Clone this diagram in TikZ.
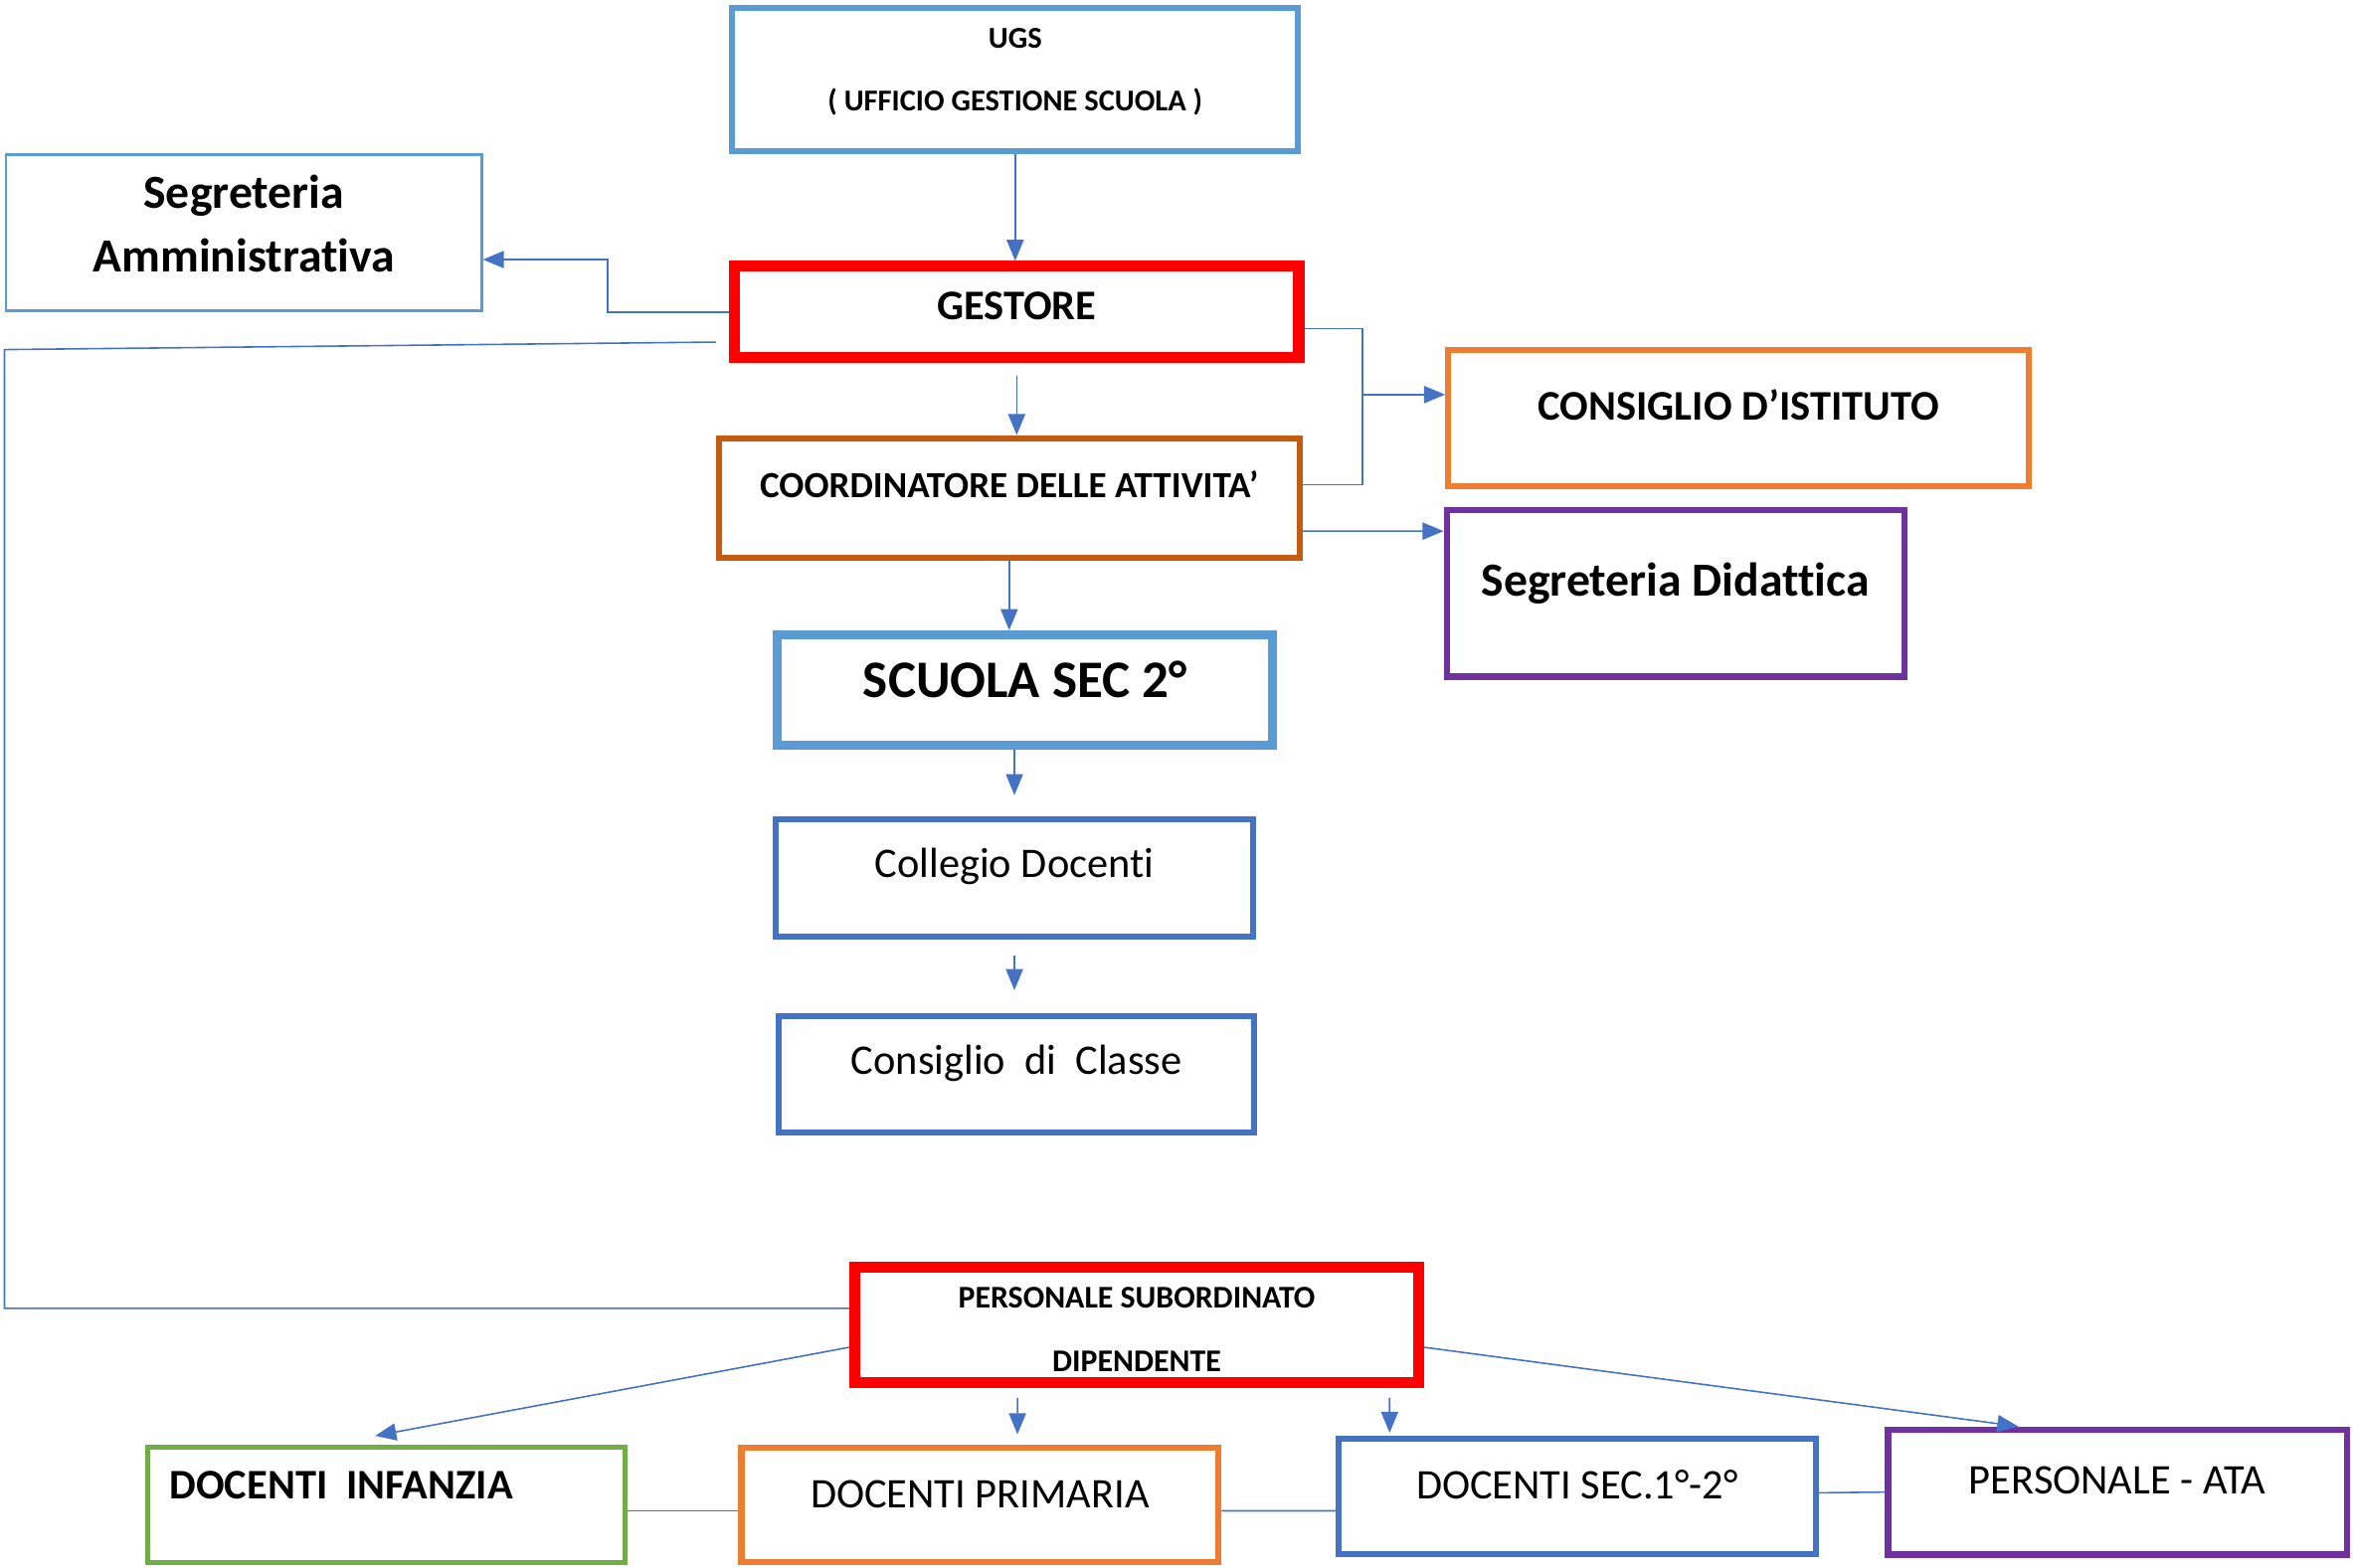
\documentclass[tikz,border=0pt]{standalone}
\usepackage{fontspec}
\setmainfont{Carlito}[Ligatures=NoCommon]
\usetikzlibrary{arrows,arrows.meta}
\usepackage{xcolor}
\definecolor{lblue}{HTML}{5B9BD5}
\definecolor{cblue}{HTML}{4472C4}
\definecolor{cred}{HTML}{FF0000}
\definecolor{brown}{HTML}{C55A11}
\definecolor{orange}{HTML}{ED7D31}
\definecolor{purple}{HTML}{7030A0}
\definecolor{green}{HTML}{70AD47}

\begin{document}
\begin{tikzpicture}[->,>={Triangle[length=8pt,width=6.5pt]},x=0.02cm,y=-0.02cm]
\useasboundingbox (0,0) rectangle (1568,1045);
\tikzstyle{box}=[draw,rectangle,inner sep=0pt,align=center,text=black]
\tikzstyle{link}=[cblue,line width=0.6pt]

% colonna centrale
\node[box,draw=lblue,line width=2.3pt,minimum width=7.54cm,text height=1.38cm,text depth=0.54cm,font=\fontsize{11.5}{13}\selectfont\bfseries] (ugs) at (676.5,53) {UGS\\[11pt]( UFFICIO GESTIONE SCUOLA )};
\node[box,draw=cred,line width=4.2pt,minimum width=7.52cm,text height=0.71cm,text depth=0.51cm,font=\fontsize{16}{19}\selectfont\bfseries] (gestore) at (677.5,208) {GESTORE};
\node[box,draw=brown,line width=2.3pt,minimum width=7.74cm,text height=0.8cm,text depth=0.8cm,font=\fontsize{14}{17}\selectfont\bfseries] (coord) at (672.5,332) {COORDINATORE DELLE ATTIVITA’};
\node[box,draw=lblue,line width=3.4pt,minimum width=6.6cm,text height=0.84cm,text depth=0.64cm,font=\fontsize{20}{24}\selectfont\bfseries] (scuola) at (683,460) {SCUOLA SEC 2°};
\node[box,draw=cblue,line width=2.3pt,minimum width=6.36cm,text height=0.78cm,text depth=0.78cm,font=\fontsize{16}{19}\selectfont] (collegio) at (676,585) {Collegio Docenti};
\node[box,draw=cblue,line width=2.3pt,minimum width=6.34cm,text height=0.78cm,text depth=0.78cm,font=\fontsize{16}{19}\selectfont] (classe) at (677.5,716) {Consiglio\ \ di\ \ Classe};

% lati
\node[box,draw=lblue,line width=0.9pt,minimum width=6.34cm,text height=1.56cm,text depth=0.52cm,font=\fontsize{18}{22}\selectfont\bfseries] (segamm) at (162.5,155) {Segreteria\\[2pt]Amministrativa};
\node[box,draw=orange,line width=2.3pt,minimum width=7.74cm,text height=0.94cm,text depth=0.88cm,font=\fontsize{16}{19}\selectfont\bfseries] (consiglio) at (1158.5,278.5) {CONSIGLIO D’ISTITUTO};
\node[box,draw=purple,line width=2.3pt,minimum width=6.1cm,text height=1.14cm,text depth=1.08cm,font=\fontsize{18}{22}\selectfont\bfseries] (segdid) at (1116.5,395.5) {Segreteria Didattica};

% personale
\node[box,draw=cred,line width=4.2pt,minimum width=7.52cm,text height=1.39cm,text depth=0.15cm,font=\fontsize{12}{14}\selectfont\bfseries] (personale) at (757.5,883) {PERSONALE SUBORDINATO\\[10pt]DIPENDENTE};
\node[box,draw=green,line width=1.7pt,text width=5.78cm,align=left,inner xsep=0.29cm,text height=0.69cm,text depth=0.85cm,font=\fontsize{16}{19}\selectfont\bfseries] (infanzia) at (257.5,1003) {DOCENTI\hspace{0.45em}INFANZIA};
\node[box,draw=orange,line width=2.3pt,minimum width=6.36cm,text height=0.8cm,text depth=0.72cm,font=\fontsize{16}{19}\selectfont] (primaria) at (653,1003) {DOCENTI PRIMARIA};
\node[box,draw=cblue,line width=2.3pt,minimum width=6.36cm,text height=0.8cm,text depth=0.74cm,font=\fontsize{16}{19}\selectfont] (sec) at (1051,997.5) {DOCENTI SEC.1°-2°};
\node[box,draw=purple,line width=2.6pt,minimum width=6.12cm,text height=0.86cm,text depth=0.8cm,font=\fontsize{16}{19}\selectfont] (ata) at (1411,994.5) {PERSONALE - ATA};

\coordinate (join) at (908,263);

\draw[link] (ugs.south) -- (ugs.south |- gestore.north);
\draw[link] (gestore.west) -- ++(-81,0) |- ([yshift=-0.36cm]segamm.east);
\draw[link,-] ([xshift=-0.18cm,yshift=-0.4cm]gestore.west) -- (3,233) |- ([yshift=0.22cm]personale.west);
\draw[link] ([yshift=-0.16cm]gestore.south) -- (gestore.south |- coord.north);
\draw[link,-] ([yshift=-0.22cm]gestore.east) -| (join) |- ([yshift=0.18cm]coord.east);
\draw[link] (join) -- (join -| consiglio.west);
\draw[link] ([yshift=-0.44cm]coord.east) -- ([yshift=0.83cm]segdid.west);
\draw[link] (coord.south) -- (coord.south |- scuola.north);
\draw[link] (collegio.north |- scuola.south) -- ([yshift=0.28cm]collegio.north);
\draw[link] ([yshift=-0.22cm]collegio.south) -- ([yshift=0.3cm]collegio.south |- classe.north);

\draw[link] ([yshift=-0.3cm]personale.west) -- ([xshift=-0.15cm,yshift=0.12cm]infanzia.north);
\draw[link] ([xshift=-1.59cm,yshift=-0.13cm]personale.south) -- ([xshift=0.5cm,yshift=0.14cm]primaria.north);
\draw[link] ([xshift=3.37cm,yshift=-0.13cm]personale.south) -- ([xshift=-2.5cm,yshift=0.04cm]sec.north);
\draw[link] ([yshift=-0.3cm]personale.east) -- ([xshift=-1.32cm]ata.north);
\draw[link,-] ([yshift=-0.08cm]infanzia.east) -- ([yshift=-0.08cm]primaria.west);
\draw[link,-] ([yshift=-0.08cm]primaria.east) -- ([yshift=-0.19cm]sec.west);
\draw[link,-] ([yshift=0.05cm]sec.east) -- (ata.west);
\end{tikzpicture}
\end{document}
